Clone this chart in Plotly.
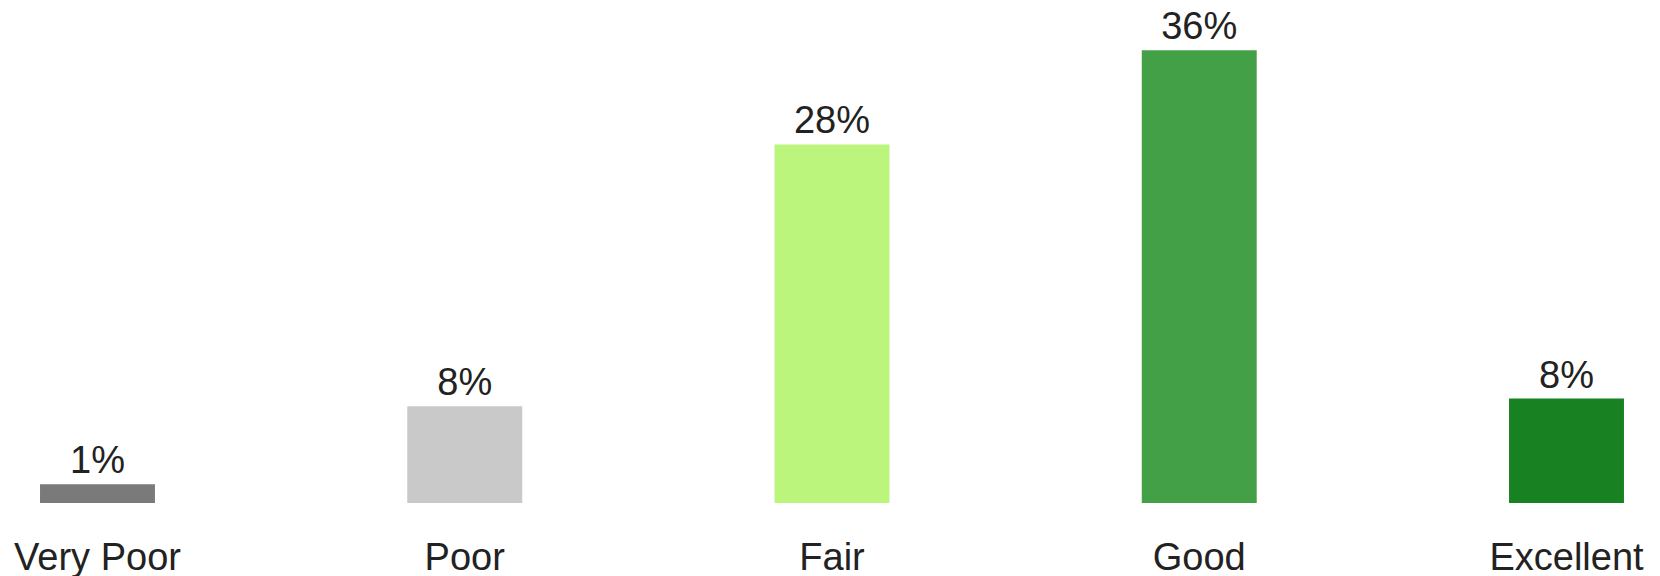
import plotly.graph_objects as go

# survey ratings
categories = ["Very Poor", "Poor", "Fair", "Good", "Excellent"]
values = [1.5, 7.7, 28.5, 36.0, 8.3]
labels = ["1%", "8%", "28%", "36%", "8%"]
colors = ["#7a7a7a", "#c9c9c9", "#bbf57c", "#44a046", "#188222"]

trace = go.Bar(
    x=categories,
    y=values,
    text=labels,
    textposition="outside",
    cliponaxis=False,
    marker=dict(color=colors, line=dict(width=0)),
    textfont=dict(family="Liberation Sans, Arial", size=38, color="#222222"),
    hoverinfo="x+text",
)

layout = go.Layout(
    width=1660,
    height=576,
    paper_bgcolor="white",
    plot_bgcolor="white",
    showlegend=False,
    bargap=0.687,
    # page body adds 8px offset, compensated here
    margin=dict(l=0, r=0, t=0, b=81),
    font=dict(family="Liberation Sans, Arial", size=38, color="#222222"),
    xaxis=dict(
        range=[-0.2437, 4.2764],
        showgrid=False,
        showline=False,
        zeroline=False,
        ticks="",
        ticklabelstandoff=28,
        tickfont=dict(size=38, color="#222222"),
    ),
    yaxis=dict(
        range=[0, 39.35],
        visible=False,
        showgrid=False,
        zeroline=False,
    ),
)

fig = go.Figure(data=[trace], layout=layout)
fig.write_html("out.html")
